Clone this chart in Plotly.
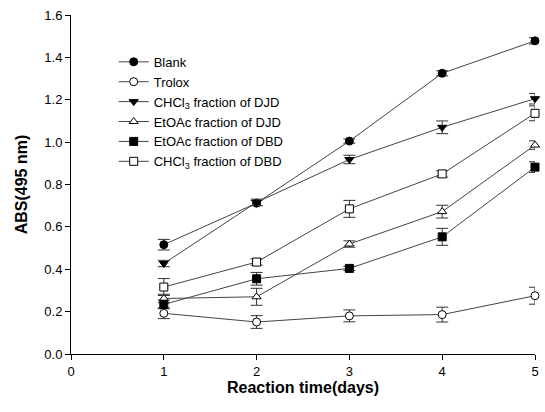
import plotly.graph_objects as go

days = [1, 2, 3, 4, 5]
series_names = ["Blank", "Trolox", "CHCl<sub>3</sub> fraction of DJD", "EtOAc fraction of DJD",
                "EtOAc fraction of DBD", "CHCl<sub>3</sub> fraction of DBD"]
blank = [0.516, 0.712, 1.005, 1.325, 1.478]
trolox = [0.192, 0.151, 0.180, 0.186, 0.275]
chcl3_djd = [0.427, 0.716, 0.918, 1.070, 1.205]
etoac_djd = [0.262, 0.270, 0.519, 0.672, 0.986]
etoac_dbd = [0.234, 0.355, 0.404, 0.553, 0.882]
chcl3_dbd = [0.316, 0.434, 0.685, 0.850, 1.136]
err_blank = [0.025, 0.012, 0.010, 0.012, 0.015]
err_trolox = [0.025, 0.030, 0.028, 0.035, 0.040]
err_chcl3_djd = [0.015, 0.015, 0.020, 0.030, 0.025]
err_etoac_djd = [0.020, 0.040, 0.015, 0.030, 0.020]
err_etoac_dbd = [0.020, 0.030, 0.010, 0.040, 0.025]
err_chcl3_dbd = [0.040, 0.015, 0.040, 0.015, 0.035]

values = [blank, trolox, chcl3_djd, etoac_djd, etoac_dbd, chcl3_dbd]
errors = [err_blank, err_trolox, err_chcl3_djd, err_etoac_djd, err_etoac_dbd, err_chcl3_dbd]
symbols = ["circle", "circle", "triangle-down", "triangle-up", "square", "square"]
fills = ["black", "white", "black", "white", "black", "white"]

fig = go.Figure()
for name, v, e, s, f in zip(series_names, values, errors, symbols, fills):
    fig.add_trace(go.Scatter(
        x=days, y=v, name=name, mode="lines+markers", cliponaxis=False,
        line=dict(color="#444444", width=1),
        marker=dict(symbol=s, size=8, color=f, line=dict(color="black", width=1)),
        error_y=dict(type="data", array=e, visible=True, color="#333333", thickness=1, width=6),
    ))

fig.update_layout(
    width=545, height=412,
    margin=dict(l=71, r=6, t=15, b=58),
    paper_bgcolor="white", plot_bgcolor="white",
    font=dict(family="Liberation Sans, Arial, sans-serif", color="black", size=13),
    showlegend=True,
    legend=dict(x=0.092, y=0.906, xanchor="left", yanchor="top", bgcolor="rgba(0,0,0,0)",
                font=dict(size=13), tracegroupgap=0, itemwidth=30),
    xaxis=dict(range=[0, 5], tickvals=[0, 1, 2, 3, 4, 5], showline=True, linecolor="black",
               linewidth=1, ticks="outside", ticklen=5, tickcolor="black", showgrid=False,
               zeroline=False, mirror=False, tickfont=dict(size=13),
               title=dict(text="<b>Reaction time(days)</b>", font=dict(size=16), standoff=3)),
    yaxis=dict(range=[0, 1.6], tickvals=[0, 0.2, 0.4, 0.6, 0.8, 1.0, 1.2, 1.4, 1.6],
               tickformat=".1f", showline=True, linecolor="black", linewidth=1,
               ticks="outside", ticklen=5, tickcolor="black", showgrid=False, zeroline=False,
               tickfont=dict(size=13),
               title=dict(text="<b>ABS(495 nm)</b>", font=dict(size=16), standoff=12)),
)

fig.write_html("out.html", config={"displayModeBar": False},
               post_script="document.body.style.margin='0';document.body.style.padding='0';")
